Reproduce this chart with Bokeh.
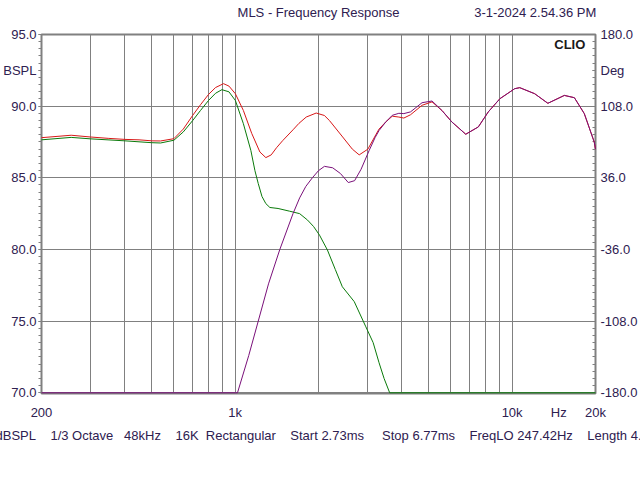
from bokeh.plotting import figure
from bokeh.models import (FixedTicker, PrintfTickFormatter, LinearAxis, LogAxis, Range1d,
                          Label, Title)
from bokeh.embed import file_html
from bokeh.resources import INLINE

# ---------------- data ----------------
freq_red = [200, 256, 300, 350, 400, 450, 500, 538, 601, 650, 703, 750, 802, 850, 908,
            950, 1002, 1071, 1148, 1229, 1291, 1350, 1411, 1486, 1618, 1700, 1806, 1962,
            2100, 2190, 2445, 2650, 2805, 3015, 3220, 3308, 3500, 3693, 3900, 4066, 4298,
            4730, 5138, 5580, 6057, 6801, 7551, 8204, 9034, 10220, 10654, 12060, 13460,
            15440, 16780, 18220, 19790, 20000]
db_red = [87.8, 87.97, 87.85, 87.75, 87.68, 87.65, 87.58, 87.57, 87.73, 88.4, 89.36, 90.1,
          90.82, 91.3, 91.57, 91.4, 90.87, 89.7, 88.1, 86.8, 86.41, 86.6, 87.1, 87.6, 88.35,
          88.8, 89.24, 89.52, 89.35, 89.0, 87.85, 87.0, 86.6, 87.0, 88.0, 88.4, 88.9, 89.3,
          89.24, 89.17, 89.4, 90.06, 90.3, 89.7, 88.9, 88.04, 88.55, 89.6, 90.52, 91.22,
          91.29, 90.87, 90.2, 90.75, 90.59, 89.48, 87.5, 87.0]

freq_green = [200, 256, 300, 400, 500, 538, 601, 650, 703, 750, 802, 850, 896, 950, 1002,
              1071, 1140, 1179, 1212, 1250, 1291, 1335, 1429, 1574, 1710, 1826, 1920, 2017,
              2154, 2300, 2438, 2692, 2965, 3150, 3308, 3450, 3614, 20000]
db_green = [87.65, 87.82, 87.72, 87.58, 87.45, 87.43, 87.62, 88.2, 89.0, 89.7, 90.4, 90.9,
            91.15, 91.0, 90.4, 88.78, 86.9, 85.5, 84.6, 83.7, 83.2, 82.93, 82.86, 82.67,
            82.5, 82.05, 81.6, 81.0, 79.96, 78.6, 77.4, 76.36, 74.6, 73.5, 72.1, 71.0, 70.0,
            70.0]

freq_purple = [200, 1020, 1120, 1212, 1320, 1450, 1618, 1710, 1800, 1900, 2000, 2101, 2250,
               2400, 2562, 2700, 2850, 3046, 3200, 3308, 3500, 3693, 3900, 4066, 4298, 4730,
               5138, 5580, 6057, 6801, 7551, 8204, 9034, 10220, 10654, 12060, 13460, 15440,
               16780, 18220, 19790, 20000]
db_purple = [70.0, 70.0, 72.6, 75.0, 77.6, 80.0, 82.5, 83.6, 84.4, 85.0, 85.5, 85.8, 85.7,
             85.3, 84.67, 84.8, 85.6, 86.9, 87.8, 88.3, 88.9, 89.36, 89.5, 89.48, 89.6,
             90.24, 90.36, 89.7, 88.9, 88.04, 88.55, 89.6, 90.52, 91.22, 91.29, 90.87, 90.2,
             90.75, 90.59, 89.48, 87.5, 87.0]

grid_freqs = [200, 300, 400, 500, 600, 700, 800, 900, 1000, 2000, 3000, 4000, 5000, 6000,
              7000, 8000, 9000, 10000, 20000]
x_label_freqs = [200, 1000, 10000, 14740, 20000]
x_label_texts = ["200", "1k", "10k", "Hz", "20k"]
db_ticks = [70, 75, 80, 85, 90, 95]
db_unit_pos = 92.5
db_unit = "dBSPL"[1:]          # shown clipped as "BSPL" in the reference window
deg_ticks = [180, 108, 36, -36, -108, -180]
deg_unit_pos = 144
deg_unit = "Deg"
title_text = "MLS - Frequency Response"
date_text = "3-1-2024 2.54.36 PM"
header_freqs = [2000, 12120]
status_texts = ["dBSPL", "1/3 Octave", "48kHz", "16K", "Rectangular", "Start 2.73ms",
                "Stop 6.77ms", "FreqLO 247.42Hz", "Length 4.04ms"]
status_gaps = [4, 3, 4, 2, 4, 5, 4, 4]

# ---------------- figure ----------------
FONT = "Liberation Sans"
TXT = "#2e2050"
GRID = "#808080"

p = figure(width=640, height=480, x_axis_type="log", x_range=(200, 20000),
           y_range=(69.95, 95), output_backend="svg", toolbar_location=None,
           min_border_left=40, min_border_right=41, min_border_top=34,
           min_border_bottom=87)
p.background_fill_color = "white"
p.border_fill_color = "white"
p.outline_line_color = GRID
p.outline_line_width = 2

p.extra_y_ranges = {"deg": Range1d(-180 - 0.05 * 14.4, 180)}

# grids
p.xgrid.ticker = FixedTicker(ticks=grid_freqs)
p.ygrid.ticker = FixedTicker(ticks=db_ticks)
for g in (p.xgrid, p.ygrid):
    g.grid_line_color = GRID
    g.grid_line_width = 1


def style_labels(ax):
    ax.major_label_text_font = FONT
    ax.major_label_text_font_size = "13px"
    ax.major_label_text_color = TXT


def no_ticks(ax):
    ax.axis_line_color = None
    ax.major_tick_line_color = None
    ax.minor_tick_line_color = None
    ax.major_tick_out = 0
    ax.major_tick_in = 0
    ax.minor_tick_out = 0
    ax.minor_tick_in = 0


# bottom x axis
xa = p.xaxis[0]
xa.ticker = FixedTicker(ticks=x_label_freqs)
xa.major_label_overrides = {f: t for f, t in zip(x_label_freqs, x_label_texts)}
no_ticks(xa)
xa.major_label_standoff = 11
style_labels(xa)

# top header (as tick labels of an extra axis above)
ta = LogAxis(ticker=FixedTicker(ticks=header_freqs),
             major_label_overrides={header_freqs[0]: title_text,
                                    header_freqs[1]: date_text})
no_ticks(ta)
ta.major_label_standoff = 15
style_labels(ta)
p.add_layout(ta, "above")

# left axis
ya = p.yaxis[0]
ya.ticker = FixedTicker(ticks=db_ticks + [db_unit_pos],
                        minor_ticks=[70 + 0.5 * i for i in range(51)])
ya.formatter = PrintfTickFormatter(format="%.1f")
ya.major_label_overrides = {db_unit_pos: db_unit}
ya.axis_line_color = None
ya.major_tick_line_color = GRID
ya.minor_tick_line_color = GRID
ya.major_tick_out = 3
ya.major_tick_in = 0
ya.minor_tick_out = 3
ya.minor_tick_in = 0
ya.major_label_standoff = 2
style_labels(ya)

# right axis
ra = LinearAxis(y_range_name="deg",
                ticker=FixedTicker(ticks=deg_ticks + [deg_unit_pos],
                                   minor_ticks=[-180 + 7.2 * i for i in range(51)]),
                formatter=PrintfTickFormatter(format="%.1f"),
                major_label_overrides={deg_unit_pos: deg_unit})
ra.axis_line_color = None
ra.major_tick_line_color = GRID
ra.minor_tick_line_color = GRID
ra.major_tick_in = 3
ra.major_tick_out = 0
ra.minor_tick_in = 3
ra.minor_tick_out = 0
ra.major_label_standoff = 5
style_labels(ra)
p.add_layout(ra, "right")

# curves
for fr, db, col in ((freq_green, db_green, "#0a7a0a"),
                    (freq_red, db_red, "#d81818"),
                    (freq_purple, db_purple, "#7a107a")):
    r = p.line(fr, db, line_color=col, line_width=1)
    r.level = "overlay"

# CLIO badge inside the frame
p.add_layout(Label(x=18380, y=94.3, text="CLIO", text_font=FONT, text_font_size="13px",
                   text_font_style="bold", text_color="#1a1a1a", text_align="right",
                   text_baseline="middle"))

# status line below
NB = "\u00a0"
status = status_texts[0]
for g, t in zip(status_gaps, status_texts[1:]):
    status += NB * g + t
p.add_layout(Title(text=status, align="left", offset=-46, standoff=6,
                   text_font=FONT, text_font_size="13px", text_font_style="normal",
                   text_color=TXT), "below")

open("out.html", "w").write(file_html(p, INLINE))
